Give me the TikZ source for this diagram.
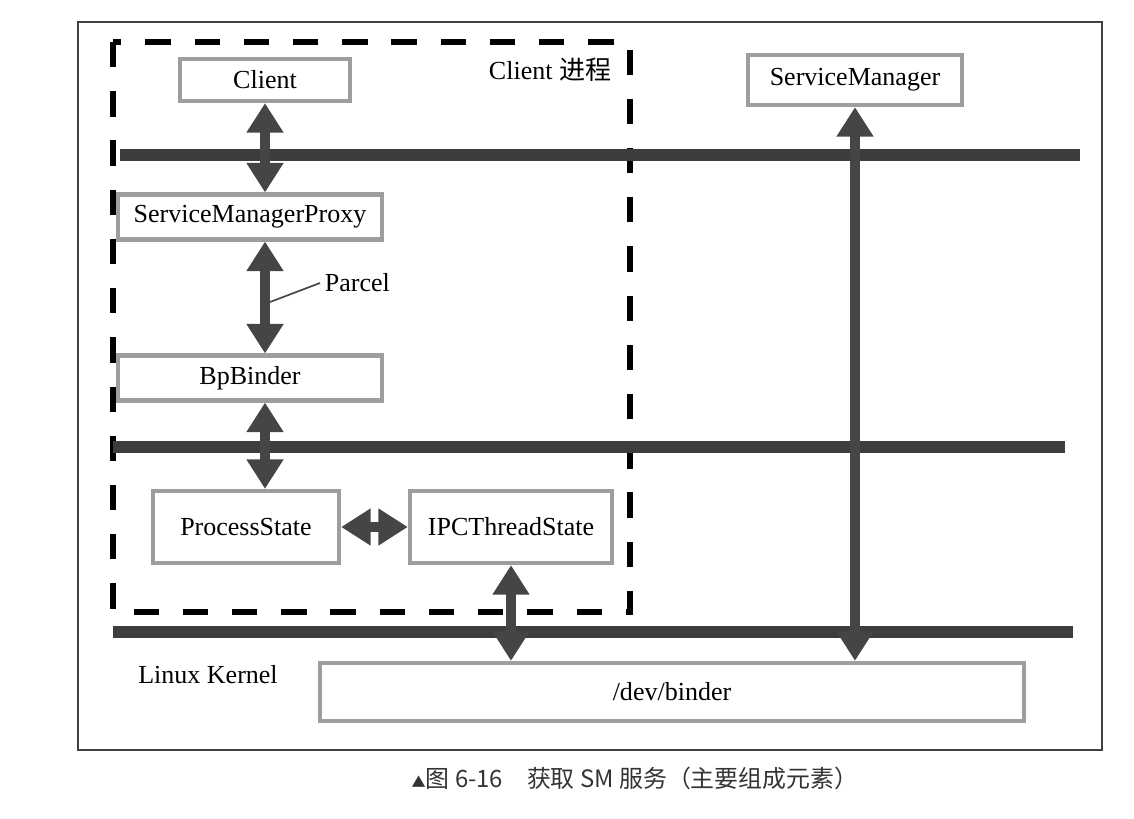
\documentclass[tikz,border=0pt]{standalone}
\usepackage{fontspec}
\setmainfont{Liberation Serif}
\newfontfamily\cjk{Noto Sans CJK SC}
\usetikzlibrary{arrows.meta}
\definecolor{boxgray}{gray}{0.62}
\definecolor{lanegray}{gray}{0.24}
\definecolor{arrowgray}{gray}{0.27}
\tikzset{
  compbox/.style={draw=boxgray, line width=3pt, fill=white, inner sep=0pt,
    font=\fontsize{18.5}{21}\selectfont},
  labeltext/.style={font=\fontsize{18.5}{21}\selectfont},
  layerline/.style={draw=lanegray, line width=8.5pt},
  biarrow/.style={draw=arrowgray, line width=6.5pt,
    {Triangle[length=21pt,width=25pt]}-{Triangle[length=21pt,width=25pt]}},
}
\begin{document}
\begin{tikzpicture}[x=0.025cm, y=-0.025cm]
    \useasboundingbox (0,0) rectangle (1134,818);
    % frame and client process
    \draw[black!75, line width=1pt] (78,22) rectangle (1102,750);
    \draw[line width=4.5pt, dash pattern=on 18pt off 17pt] (113,42) rectangle (630,612);
    \node[anchor = center, labeltext] (clientproc) at (550,70){Client {\cjk 进程}};
    % layers
    \coordinate (layer1a) at (120,155);
    \coordinate (layer1b) at (1080,155);
    \coordinate (layer2a) at (113,447);
    \coordinate (layer2b) at (1065,447);
    \coordinate (layer3a) at (113,632);
    \coordinate (layer3b) at (1073,632);
    \draw[layerline] (layer1a) -- (layer1b);
    \draw[layerline] (layer2a) -- (layer2b);
    \draw[layerline] (layer3a) -- (layer3b);
    % components
    \node[compbox, minimum width=4.25cm, minimum height=1.05cm] (client) at (265,80){Client};
    \node[compbox, minimum width=5.35cm, minimum height=1.25cm] (svcmgr) at (855,80){ServiceManager};
    \node[compbox, minimum width=6.6cm, minimum height=1.12cm] (smproxy) at (250,217){ServiceManagerProxy};
    \node[compbox, minimum width=6.6cm, minimum height=1.12cm] (bpbinder) at (250,378){BpBinder};
    \node[compbox, minimum width=4.65cm, minimum height=1.8cm] (procstate) at (246,527){ProcessState};
    \node[compbox, minimum width=5.05cm, minimum height=1.8cm] (ipcstate) at (511,527){IPCThreadState};
    \node[compbox, minimum width=17.6cm, minimum height=1.45cm] (devbinder) at (672,692){/dev/binder};
    \node[anchor = center, labeltext] (kernel) at (208,675){Linux Kernel};
    % connections
    \draw[biarrow] (client.south) -- (client.south |- smproxy.north);
    \draw[biarrow] (client.south |- smproxy.south) -- (client.south |- bpbinder.north);
    \draw[biarrow] (client.south |- bpbinder.south) -- (client.south |- procstate.north);
    \draw[biarrow] (procstate.east) -- (ipcstate.west);
    \draw[biarrow] (ipcstate.south) -- (ipcstate.south |- devbinder.north);
    \draw[biarrow] (svcmgr.south) -- (svcmgr.south |- devbinder.north);
    \node[anchor = west, labeltext] (parcel) at (320,283){Parcel};
    \coordinate (parcelpt) at (270,302);
    \draw[arrowgray, line width=1.2pt] (parcelpt) -- (parcel.west);
    % caption
    \node[anchor = center, font=\cjk\fontsize{17}{19}\selectfont, text=black!80] (caption) at (635,778){{\fontsize{10}{12}\selectfont ▲}图 6-16\quad 获取 SM 服务（主要组成元素）};
\end{tikzpicture}
\end{document}
